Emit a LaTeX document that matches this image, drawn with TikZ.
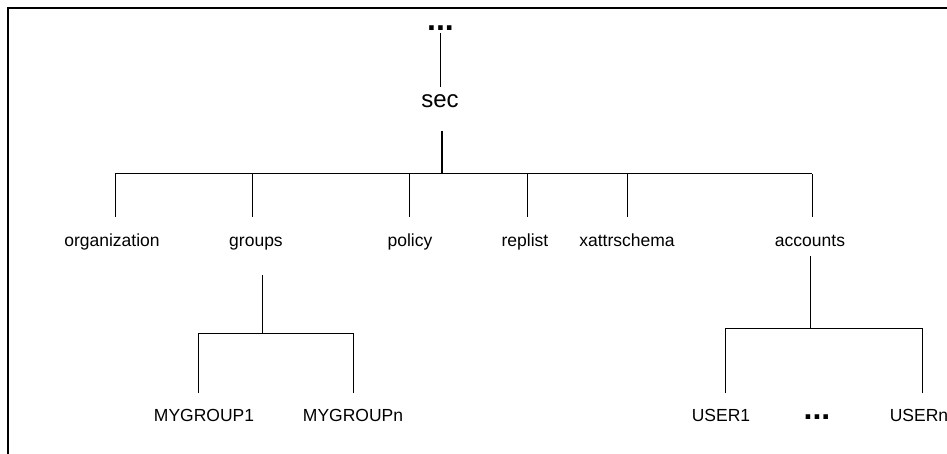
\documentclass[tikz,border=0pt]{standalone}
\usepackage{fontspec}
\setmainfont{Liberation Sans}
\begin{document}
\begin{tikzpicture}[x=1pt,y=-1pt,
  lbl/.style={font=\fontsize{17.5}{20}\selectfont, inner sep=0pt, anchor=base},
  big/.style={font=\fontsize{24}{28}\selectfont, inner sep=0pt, anchor=base},
  dotsnode/.style={font=\bfseries\fontsize{32}{36}\selectfont, inner sep=0pt, anchor=base},
  ln/.style={line width=1pt},
  thick ln/.style={line width=1.6pt},
  frame/.style={line width=1.3pt}]
\useasboundingbox (0,0) rectangle (947,454);
% frame (top and left edges)
\draw[frame] (947,8) -- (8,8) -- (8,454);

% nodes
\node[dotsnode] (top) at (440.5,30.5) {...};
\node[big] (sec) at (440,108) {sec};
\node[lbl] (org) at (112,247) {organization};
\node[lbl] (grp) at (256,247) {groups};
\node[lbl] (pol) at (410,247) {policy};
\node[lbl] (rep) at (525,247) {replist};
\node[lbl] (xat) at (627,247) {xattrschema};
\node[lbl] (acc) at (810,247) {accounts};
\node[lbl] (g1) at (204,421) {MYGROUP1};
\node[lbl] (gn) at (353,421) {MYGROUPn};
\node[lbl] (u1) at (721,421) {USER1};
\node[dotsnode] (ud) at (817,419) {...};
\node[lbl] (un) at (919,421) {USERn};

% branch points
\coordinate (bar) at (442,174);
\coordinate (gtop) at (262,275);
\coordinate (gbar) at (262,333);
\coordinate (atop) at (810,256);
\coordinate (abar) at (810,328);
\coordinate (orgd) at (115,217);
\coordinate (grpd) at (252,217);
\coordinate (pold) at (409,217);
\coordinate (repd) at (527,217);
\coordinate (xatd) at (627,217);
\coordinate (accd) at (812,217);
\coordinate (g1d) at (198,393);
\coordinate (gnd) at (353,393);
\coordinate (u1d) at (725,393);
\coordinate (und) at (922,393);

% connectors
\draw[ln] ([yshift=-3pt]top.base) -- ([yshift=21pt]top.base |- sec.base);
\draw[thick ln] ([yshift=-23pt]bar |- sec.base) -- (bar);
\draw[ln] (orgd |- bar) -- (accd |- bar);
\foreach \n in {org,grp,pol,rep,xat,acc}
  \draw[ln] (\n d) -- (\n d |- bar);

\draw[ln] (gtop) -- (gbar);
\draw[ln] (g1d |- gbar) -- (gnd |- gbar);
\foreach \n in {g1,gn}
  \draw[ln] (\n d) -- (\n d |- gbar);

\draw[ln] (atop) -- (abar);
\draw[ln] (u1d |- abar) -- (und |- abar);
\foreach \n in {u1,un}
  \draw[ln] (\n d) -- (\n d |- abar);
\end{tikzpicture}
\end{document}
